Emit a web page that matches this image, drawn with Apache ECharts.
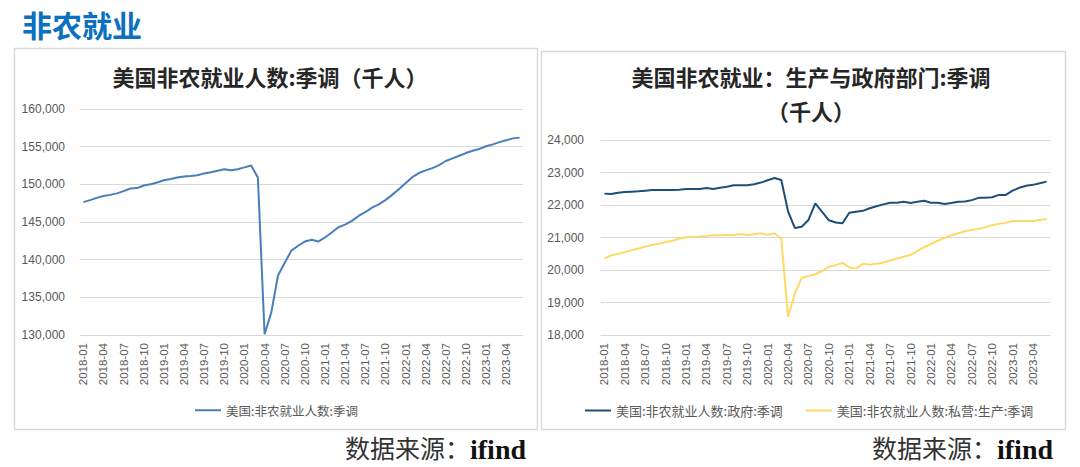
<!DOCTYPE html>
<html><head><meta charset="utf-8">
<script src="https://cdn.jsdelivr.net/npm/echarts@6/dist/echarts.min.js"></script>
<style>html,body{margin:0;padding:0;background:#fff}#c{width:1080px;height:467px}</style>
</head><body><div id="c"></div>
<script>
// Monthly categories 2018-01 .. 2023-06
const months = [];
for (let y = 2018; y <= 2023; y++) for (let m = 1; m <= 12; m++) { if (y === 2023 && m > 6) break; months.push(y + '-' + String(m).padStart(2, '0')); }

// 美国:非农就业人数:季调 (千人)
const totalNonfarm = [147640,147900,148200,148450,148600,148800,149100,149450,149500,149850,150000,150250,
150550,150700,150900,151050,151100,151200,151450,151600,151800,152000,151880,152000,
152250,152490,150900,130100,133000,137900,139600,141200,141850,142400,142650,142400,
142950,143600,144300,144650,145150,145800,146300,146900,147350,147900,148600,149350,
150150,150950,151500,151850,152150,152550,153100,153450,153800,154150,154450,154700,
155050,155300,155600,155850,156100,156200];

// 美国:非农就业人数:政府:季调
const government = [22350,22340,22380,22400,22410,22420,22440,22460,22460,22460,22460,22470,
22490,22490,22490,22520,22490,22530,22560,22610,22610,22610,22640,22690,
22760,22830,22770,21800,21290,21330,21540,22050,21790,21530,21460,21440,
21760,21790,21820,21900,21960,22020,22070,22070,22100,22060,22100,22130,
22070,22070,22030,22060,22100,22110,22150,22220,22220,22240,22310,22310,
22440,22530,22590,22620,22670,22720];

// 美国:非农就业人数:私营:生产:季调
const goodsProducing = [20360,20450,20490,20550,20610,20660,20720,20770,20810,20860,20900,20960,
21010,21020,21030,21050,21070,21070,21080,21080,21110,21080,21100,21130,
21080,21130,20960,18560,19280,19760,19820,19870,19970,20100,20150,20220,
20080,20050,20190,20160,20190,20230,20290,20350,20410,20460,20590,20700,
20800,20900,20990,21070,21130,21190,21230,21260,21320,21380,21420,21450,
21510,21510,21510,21510,21540,21570];

const seriesNames = ['美国:非农就业人数:季调', '美国:非农就业人数:政府:季调', '美国:非农就业人数:私营:生产:季调'];

const chart = echarts.init(document.getElementById('c'), null, { renderer: 'svg' });
const fmt = v => v.toLocaleString('en-US');
const axisLabelY = { color: '#595959', fontSize: 12, margin: 15, formatter: fmt, fontFamily: 'Liberation Sans, Arial, sans-serif' };
const xAxisCommon = {
  type: 'category', data: months, boundaryGap: true,
  axisTick: { show: false },
  axisLine: { lineStyle: { color: '#d9d9d9', width: 1 } },
  axisLabel: { interval: 2, rotate: 90, color: '#595959', fontSize: 11.5, margin: 8, fontFamily: 'Liberation Sans, Arial, sans-serif' }
};
const splitLine = { show: true, lineStyle: { color: '#d9d9d9', width: 1 } };
const cjk = '"Noto Sans CJK SC", sans-serif';
const serif = '"Liberation Serif", "DejaVu Serif", serif';
const legendCommon = { icon: 'rect', padding: 0, itemWidth: 26, itemHeight: 2, itemGap: 23, top: 404 };

function sourceText(xSplit) {
  return [
    { type: 'text', x: xSplit, y: 447, style: { text: '数据来源：', fill: '#333', font: '25px ' + cjk, textAlign: 'right', textVerticalAlign: 'middle' } },
    { type: 'text', x: xSplit, y: 449, style: { text: 'ifind', fill: '#111', font: 'bold 28px ' + serif, textAlign: 'left', textVerticalAlign: 'middle' } }
  ];
}

chart.setOption({
  animation: false,
  grid: [
    { left: 80, right: 557, top: 109, bottom: 132 },
    { left: 601, right: 30, top: 140, bottom: 132 }
  ],
  xAxis: [
    Object.assign({ gridIndex: 0 }, xAxisCommon),
    Object.assign({ gridIndex: 1 }, xAxisCommon)
  ],
  yAxis: [
    { gridIndex: 0, type: 'value', min: 130000, max: 160000, interval: 5000, axisLine: { show: false }, axisTick: { show: false }, splitLine, axisLabel: axisLabelY },
    { gridIndex: 1, type: 'value', min: 18000, max: 24000, interval: 1000, axisLine: { show: false }, axisTick: { show: false }, splitLine, axisLabel: Object.assign({}, axisLabelY, { margin: 17 }) }
  ],
  legend: [
    Object.assign({ data: [seriesNames[0]], left: 195, textStyle: { color: '#595959', fontSize: 12.5, fontFamily: cjk } }, legendCommon),
    Object.assign({ data: [seriesNames[1], seriesNames[2]], left: 585, textStyle: { color: '#595959', fontSize: 13, fontFamily: cjk } }, legendCommon)
  ],
  series: [
    { name: seriesNames[0], type: 'line', xAxisIndex: 0, yAxisIndex: 0, data: totalNonfarm, symbol: 'none', lineStyle: { color: '#4A7EBB', width: 2 }, itemStyle: { color: '#4A7EBB' } },
    { name: seriesNames[1], type: 'line', xAxisIndex: 1, yAxisIndex: 1, data: government, symbol: 'none', lineStyle: { color: '#1F4E79', width: 2 }, itemStyle: { color: '#1F4E79' } },
    { name: seriesNames[2], type: 'line', xAxisIndex: 1, yAxisIndex: 1, data: goodsProducing, symbol: 'none', lineStyle: { color: '#FFD966', width: 2 }, itemStyle: { color: '#FFD966' } }
  ],
  graphic: [
    { type: 'rect', shape: { x: 14.5, y: 48.5, width: 523, height: 381 }, style: { fill: 'none', stroke: '#d9d9d9', lineWidth: 1.5 }, silent: true, z: -1 },
    { type: 'rect', shape: { x: 541.5, y: 51.5, width: 524, height: 378 }, style: { fill: 'none', stroke: '#d9d9d9', lineWidth: 1.5 }, silent: true, z: -1 },
    { type: 'text', left: 22, top: 9, style: { text: '非农就业', fill: '#0B6FC2', font: 'bold 30px ' + cjk } },
    { type: 'text', x: 270, y: 76, style: { text: '美国非农就业人数:季调（千人）', fill: '#262626', font: 'bold 22px ' + cjk, textAlign: 'center', textVerticalAlign: 'middle' } },
    { type: 'text', x: 811, y: 76, style: { text: '美国非农就业：生产与政府部门:季调', fill: '#262626', font: 'bold 22px ' + cjk, textAlign: 'center', textVerticalAlign: 'middle' } },
    { type: 'text', x: 811, y: 110, style: { text: '（千人）', fill: '#262626', font: 'bold 22px ' + cjk, textAlign: 'center', textVerticalAlign: 'middle' } }
  ].concat(sourceText(470), sourceText(997))
});
</script></body></html>
